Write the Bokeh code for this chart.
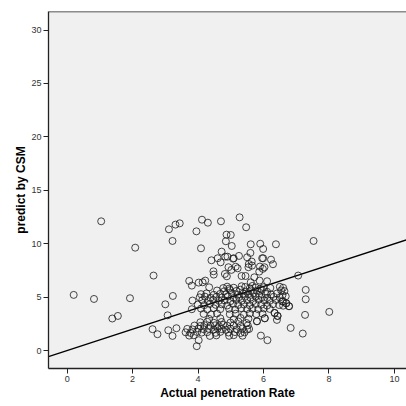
from bokeh.plotting import figure
from bokeh.models import Range1d, Span, FixedTicker
from bokeh.embed import file_html
from bokeh.resources import INLINE

# ---- data ----
x_ticks = [0, 2, 4, 6, 8, 10]
y_ticks = [0, 5, 10, 15, 20, 25, 30]

out_x = [0.20, 0.82, 1.04, 1.38, 1.55, 1.92, 2.08, 2.61, 2.64, 2.76, 3.00, 3.07, 3.09, 3.11, 3.22,
         3.23, 3.22, 3.31, 3.44, 3.34, 3.95, 4.09, 4.12, 4.30, 4.70, 5.27, 5.47, 7.53, 7.06, 7.29,
         7.29, 7.27, 8.01, 6.83, 7.20, 5.92, 6.12, 3.96, 4.02, 6.69, 6.78, 6.60, 6.57, 6.34, 6.43,
         6.04, 5.80]
out_y = [5.21, 4.83, 12.10, 3.00, 3.24, 4.90, 9.63, 2.00, 7.02, 1.53, 4.33, 3.30, 1.90, 11.35, 10.26,
         5.11, 1.37, 11.79, 11.91, 2.09, 11.16, 9.57, 12.25, 11.97, 12.10, 12.47, 11.54, 10.26, 7.02, 5.68,
         4.80, 3.34, 3.62, 2.12, 1.59, 1.40, 0.97, 0.41, 0.97, 4.43, 4.15, 4.20, 4.60, 3.52, 3.24,
         3.02, 2.74]

upper_x = [3.73, 3.81, 4.02, 4.14, 4.22, 4.41, 4.47, 4.48, 4.60, 4.69, 4.72, 4.83, 4.90, 4.82, 4.88,
           4.93, 5.07, 5.25, 5.21, 5.33, 5.50, 5.55, 5.60, 5.64, 5.54, 5.45, 5.72, 5.61, 5.87, 5.89,
           5.99, 6.03, 5.88, 6.11, 6.23, 6.29, 5.09, 5.96, 5.02, 5.15, 5.65, 5.98, 4.87, 5.00, 4.85,
           5.03, 5.61, 5.90, 5.99, 6.38]
upper_y = [6.52, 6.08, 6.36, 6.39, 6.55, 8.45, 7.42, 7.11, 8.64, 8.26, 9.26, 8.79, 8.79, 7.17, 6.95,
           7.80, 8.60, 8.86, 7.70, 6.98, 8.73, 8.10, 9.14, 8.33, 7.80, 6.98, 6.86, 6.39, 7.39, 7.86,
           8.64, 7.80, 6.55, 6.49, 8.51, 8.08, 8.64, 8.64, 7.55, 7.85, 7.95, 7.65, 10.85, 10.82, 10.23,
           9.79, 9.95, 10.00, 9.51, 9.95]

mid_x = [4.34, 4.77, 4.89, 4.95, 5.09, 5.33, 5.44, 5.58, 5.66, 5.76, 5.90, 6.00, 6.21, 6.50, 6.60,
         4.58, 4.80, 4.98, 5.17, 5.29, 5.47, 5.62, 5.80, 5.95, 6.11, 6.54, 6.64,
         4.09, 4.26, 4.48, 4.68, 4.85, 5.03, 5.21, 5.38, 5.54, 5.70, 5.86, 6.07, 6.23, 6.41, 6.58,
         4.05, 4.21, 4.38, 4.56, 4.72, 4.91, 5.09, 5.25, 5.44, 5.60, 5.76, 5.95, 6.11, 6.31, 6.50, 6.68,
         3.83, 4.13, 4.30, 4.46, 4.64, 4.81, 4.99, 5.17, 5.34, 5.50, 5.68, 5.85, 6.03, 6.19, 6.38, 6.60,
         3.99, 4.19, 4.36, 4.54, 4.72, 4.89, 5.07, 5.23, 5.40, 5.58, 5.76, 5.93, 6.11, 6.29, 6.48, 6.70,
         3.81, 4.09, 4.28, 4.48, 4.68, 4.95, 5.13, 5.32, 5.50, 5.66, 5.84, 6.01, 6.19, 6.78,
         4.17, 4.40, 4.58, 4.97, 5.15, 5.40, 5.58, 5.78, 5.97, 6.34,
         4.34, 4.68, 5.09, 5.30, 5.54, 5.80, 6.04, 6.43]
mid_y = [5.92, 5.85, 5.98, 5.80, 5.88, 6.02, 5.95, 5.83, 6.05, 5.90, 5.78, 5.93, 5.86, 5.97, 5.88,
         5.62, 5.55, 5.66, 5.58, 5.70, 5.52, 5.64, 5.60, 5.68, 5.50, 5.63, 5.57,
         5.28, 5.35, 5.22, 5.31, 5.26, 5.38, 5.24, 5.33, 5.29, 5.36, 5.21, 5.30, 5.25, 5.34, 5.19,
         4.98, 5.05, 4.94, 5.02, 4.96, 5.07, 4.92, 5.00, 5.04, 4.95, 5.06, 4.99, 4.93, 5.03, 4.97, 5.08,
         4.68, 4.72, 4.64, 4.75, 4.66, 4.70, 4.62, 4.74, 4.67, 4.71, 4.63, 4.76, 4.69, 4.65, 4.73, 4.61,
         4.30, 4.25, 4.36, 4.28, 4.33, 4.22, 4.38, 4.27, 4.31, 4.24, 4.35, 4.29, 4.21, 4.34, 4.26, 4.43,
         3.87, 3.93, 3.85, 3.96, 3.88, 3.91, 3.84, 3.97, 3.89, 3.92, 3.86, 3.94, 3.90, 4.15,
         3.43, 3.38, 3.47, 3.40, 3.45, 3.36, 3.48, 3.41, 3.44, 3.52,
         2.96, 3.02, 2.93, 3.05, 2.98, 2.74, 3.02, 3.24]

low_x = [4.07, 4.28, 4.48, 4.72, 4.99, 5.23, 5.48, 6.41,
         3.89, 4.07, 4.19, 4.38, 4.52, 4.64, 4.77, 4.89, 5.09, 5.30, 5.52,
         3.67, 3.83, 4.01, 4.17, 4.32, 4.48, 4.60, 4.72, 4.85, 4.99, 5.19, 5.36, 5.50, 5.56,
         3.62, 3.77, 3.97, 4.11, 4.28, 4.54, 4.68, 4.93, 5.13, 5.30, 5.42,
         3.73, 3.87, 4.36, 4.56, 4.95, 5.09, 5.36]
low_y = [2.65, 2.70, 2.60, 2.68, 2.62, 2.72, 2.58, 2.87,
         2.34, 2.30, 2.38, 2.32, 2.36, 2.28, 2.40, 2.33, 2.37, 2.31, 2.35,
         2.03, 1.98, 2.06, 2.00, 2.04, 1.96, 2.08, 2.01, 1.95, 2.05, 1.99, 2.07, 1.97, 2.02,
         1.71, 1.65, 1.74, 1.68, 1.72, 1.66, 1.75, 1.69, 1.73, 1.64, 1.70,
         1.40, 1.43, 1.37, 1.42, 1.38, 1.44, 1.39]

line_slope = 1.0
line_intercept = 0.0

x_lo, x_hi = -0.57, 10.37
y_lo, y_hi = -1.68, 31.74

xs = out_x + upper_x + mid_x + low_x
ys = out_y + upper_y + mid_y + low_y

p = figure(width=406, height=406, output_backend="svg", toolbar_location=None,
           x_range=Range1d(x_lo, x_hi), y_range=Range1d(y_lo, y_hi),
           min_border_left=48, min_border_right=0, min_border_top=11, min_border_bottom=38,
           background_fill_color="#f0f0f0", border_fill_color="white")
p.outline_line_color = None
p.grid.visible = False

fit_x = [x_lo, x_hi]
fit_y = [line_intercept + line_slope * v for v in fit_x]
p.line(fit_x, fit_y, line_color="black", line_width=1.3)

p.scatter(xs, ys, marker="circle", size=7, fill_color=None,
          line_color="#1a1a1a", line_width=1, line_alpha=0.8)

p.add_layout(Span(location=y_hi, dimension="width", line_color="#222222", line_width=1.5))

for ax, ticks in ((p.xaxis, x_ticks), (p.yaxis, y_ticks)):
    ax.ticker = FixedTicker(ticks=ticks)
    ax.minor_tick_line_color = None
    ax.major_tick_out = 5
    ax.major_tick_in = 0
    ax.major_tick_line_color = "#222222"
    ax.axis_line_color = "#222222"
    ax.axis_line_width = 1.3
    ax.major_label_text_font = "Liberation Sans"
    ax.major_label_text_font_size = "9px"
    ax.major_label_text_color = "#333333"
    ax.major_label_standoff = 2
    ax.axis_label_text_font = "Liberation Sans"
    ax.axis_label_text_font_style = "bold"
    ax.axis_label_text_font_size = "12px"
    ax.axis_label_text_color = "black"

p.xaxis.axis_label = "Actual penetration Rate"
p.yaxis.axis_label = "predict by CSM"
p.xaxis.axis_label_standoff = 1
p.yaxis.axis_label_standoff = 0

open("out.html", "w").write(file_html(p, INLINE))
